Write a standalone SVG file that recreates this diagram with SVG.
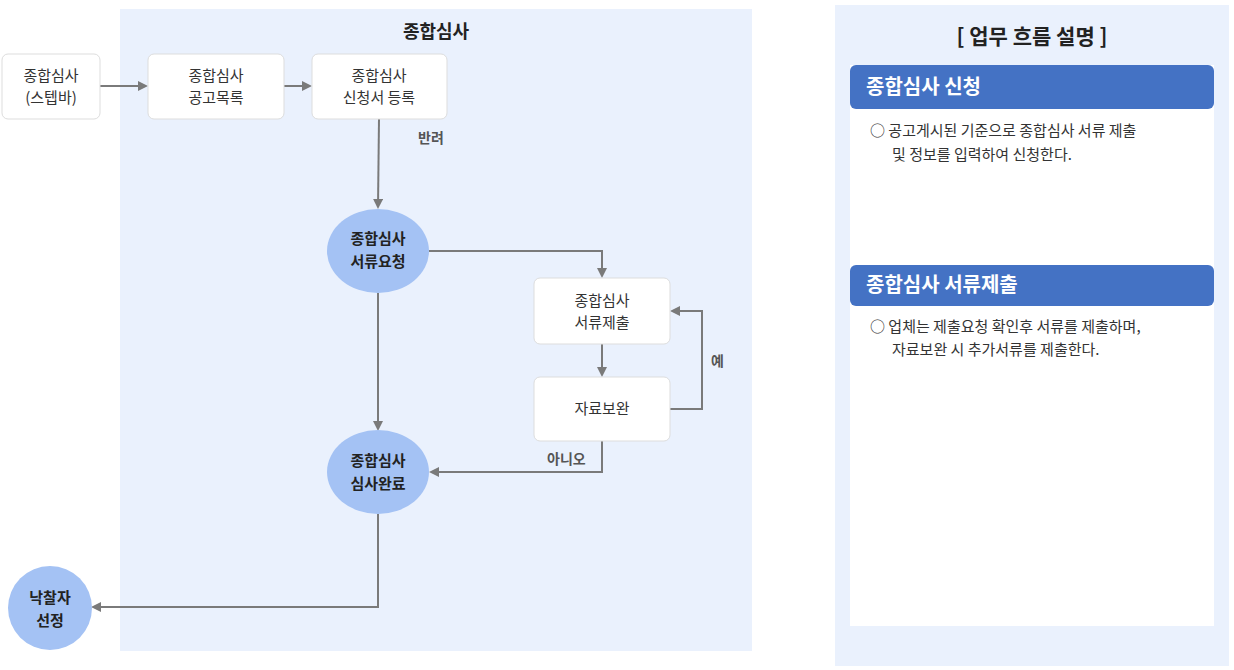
<svg xmlns="http://www.w3.org/2000/svg" width="1234" height="670" viewBox="0 0 1234 670">
<style>
text{font-family:"Noto Sans CJK KR","Noto Sans",sans-serif;fill:#333}
.box{fill:#fff;stroke:#ddd;stroke-width:1}
.el{fill:#a4c2f4}
.t{font-size:15px;text-anchor:middle}
.b{font-size:15px;font-weight:bold;text-anchor:middle;fill:#222}
.ln{fill:none;stroke:#7a7a7a;stroke-width:2}
.lb{font-size:14px;font-weight:bold;fill:#555}
.d{font-size:15px;fill:#333}
</style>
<defs><marker id="a" markerWidth="10" markerHeight="10" refX="8" refY="5" orient="auto" markerUnits="userSpaceOnUse"><path d="M0,0 L10,5 L0,10 Z" fill="#7a7a7a"/></marker></defs>
<rect x="0" y="0" width="1234" height="670" fill="#fff"/>
<rect x="120" y="9" width="632" height="642" fill="#eaf1fd"/>
<text x="436" y="38" class="b" font-size="18" style="font-size:18px">종합심사</text>
<rect x="835" y="5" width="394" height="661" fill="#eaf1fd"/>
<rect x="850" y="65" width="364" height="561" fill="#fff"/>
<text x="1032" y="44" text-anchor="middle" style="font-size:21px;font-weight:bold;fill:#222">[ 업무 흐름 설명 ]</text>
<rect x="850" y="65" width="364" height="44" rx="6" fill="#4472c4"/>
<text x="866" y="94" style="font-size:20px;font-weight:bold;fill:#fff">종합심사 신청</text>
<text x="870" y="136" class="d">○  공고게시된 기준으로 종합심사 서류 제출</text>
<text x="892" y="160" class="d">및 정보를 입력하여 신청한다.</text>
<rect x="850" y="265" width="364" height="41" rx="6" fill="#4472c4"/>
<text x="866" y="292" style="font-size:20px;font-weight:bold;fill:#fff">종합심사 서류제출</text>
<text x="870" y="332" class="d">○  업체는 제출요청 확인후 서류를 제출하며,</text>
<text x="892" y="355" class="d">자료보완 시 추가서류를 제출한다.</text>
<g id="connectors">
<path class="ln" d="M100,86 H146" marker-end="url(#a)"/>
<path class="ln" d="M284,86 H310" marker-end="url(#a)"/>
<path class="ln" d="M379,119 L378,207" marker-end="url(#a)"/>
<path class="ln" d="M429,251 H602 V276" marker-end="url(#a)"/>
<path class="ln" d="M602,344 V375" marker-end="url(#a)"/>
<path class="ln" d="M670,409 H702 V311 H672" marker-end="url(#a)"/>
<path class="ln" d="M602,441 V472 H431" marker-end="url(#a)"/>
<path class="ln" d="M378,293 V429" marker-end="url(#a)"/>
<path class="ln" d="M378,514 V607 H93" marker-end="url(#a)"/>
<text x="418" y="143" class="lb">반려</text>
<text x="711" y="366" class="lb">예</text>
<text x="547" y="464" class="lb">아니오</text>
</g>
<g id="n1"><rect class="box" x="2" y="54" width="98" height="65" rx="6"/><text x="51" y="81" class="t">종합심사</text><text x="51" y="103" class="t">(스텝바)</text></g>
<g id="n2"><rect class="box" x="148" y="54" width="136" height="65" rx="6"/><text x="216" y="81" class="t">종합심사</text><text x="216" y="103" class="t">공고목록</text></g>
<g id="n3"><rect class="box" x="312" y="54" width="135" height="65" rx="6"/><text x="379" y="81" class="t">종합심사</text><text x="379" y="103" class="t">신청서 등록</text></g>
<g id="n4"><ellipse class="el" cx="378" cy="251" rx="51" ry="42"/><text x="378" y="244" class="b">종합심사</text><text x="378" y="267" class="b">서류요청</text></g>
<g id="n5"><rect class="box" x="534" y="278" width="136" height="66" rx="6"/><text x="602" y="306" class="t">종합심사</text><text x="602" y="328" class="t">서류제출</text></g>
<g id="n6"><rect class="box" x="534" y="377" width="136" height="64" rx="6"/><text x="602" y="414" class="t">자료보완</text></g>
<g id="n7"><ellipse class="el" cx="378" cy="472" rx="51" ry="42"/><text x="378" y="466" class="b">종합심사</text><text x="378" y="489" class="b">심사완료</text></g>
<g id="n8"><circle class="el" cx="50" cy="608" r="42"/><text x="50" y="603" class="b">낙찰자</text><text x="50" y="626" class="b">선정</text></g>
</svg>
